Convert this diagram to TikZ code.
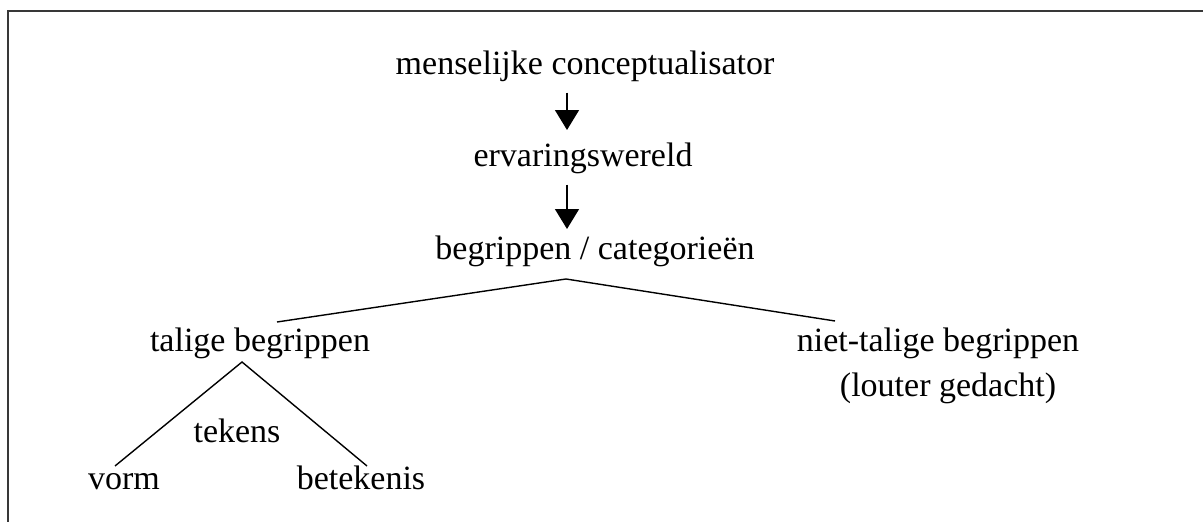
\documentclass[tikz,border=0pt]{standalone}
\usepackage{fontspec}
\setmainfont{Liberation Serif}
\usetikzlibrary{arrows.meta}
\begin{document}
\begin{tikzpicture}[x=0.5pt,y=-0.5pt,
  lbl/.style={anchor=base,inner sep=0pt,font=\fontsize{17}{20}\selectfont},
  arr/.style={line width=0.75pt,-{Triangle[width=12pt,length=10pt]}},
  branch/.style={line width=0.7pt},
  frame/.style={line width=1pt,draw=black!78}]
\useasboundingbox (0,0) rectangle (1203,522);
\draw[frame] (8,522) -- (8,11) -- (1204,11);
\node[lbl] (mc) at (585,75) {menselijke conceptualisator};
\node[lbl] (ew) at (583,167) {ervaringswereld};
\node[lbl] (bc) at (595,260) {begrippen / categorieën};
\node[lbl] (tb) at (260,352) {talige begrippen};
\node[lbl] (nt) at (938,352) {niet-talige begrippen};
\node[lbl] (lg) at (948,397) {(louter gedacht)};
\node[lbl] (tk) at (237,443) {tekens};
\node[lbl] (vo) at (124,490) {vorm};
\node[lbl] (be) at (361,490) {betekenis};
\coordinate (ax) at (567,0);
\coordinate (top1) at (566,279);
\coordinate (lend) at (277,322);
\coordinate (rend) at (835,321);
\coordinate (top2) at (242,362);
\coordinate (vend) at (115,466);
\coordinate (bend) at (367,466);
\draw[arr,shorten <=5pt,shorten >=6.5pt] (mc.south -| ax) -- (ew.north -| ax);
\draw[arr,shorten <=5pt,shorten >=3.5pt] (ew.south -| ax) -- (bc.north -| ax);
\draw[branch] (lend) -- (top1) -- (rend);
\draw[branch] (vend) -- (top2) -- (bend);
\end{tikzpicture}
\end{document}
